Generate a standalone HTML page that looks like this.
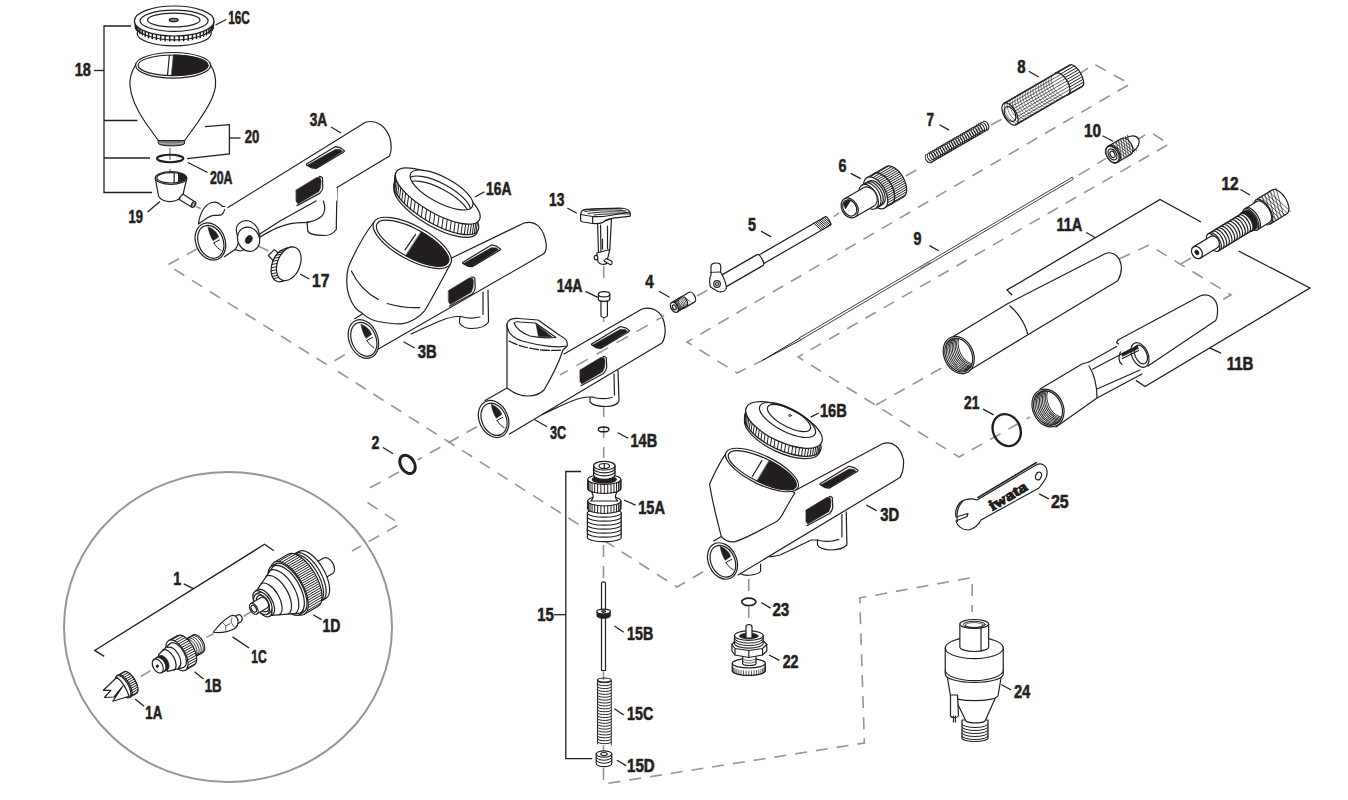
<!DOCTYPE html>
<html><head><meta charset="utf-8"><style>
html,body{margin:0;padding:0;background:#fff;}
svg{display:block;}
.lab text{font-family:"Liberation Sans",sans-serif;font-weight:bold;font-size:19px;fill:#231f20;stroke:#231f20;stroke-width:0.6;}
.ld line,.ld polyline{stroke:#231f20;stroke-width:1.3;fill:none;}
.ds line,.ds polyline,.ds path,.ds ellipse{stroke:#939598;stroke-width:1.6;fill:none;stroke-dasharray:12 9;}
.p path,.p ellipse,.p circle,.p line,.p polyline,.p rect,.p polygon{stroke:#231f20;stroke-width:1.2;fill:none;stroke-linejoin:round;stroke-linecap:round;}
.p .w{fill:#fff;}
.p .k{fill:#231f20;stroke:#231f20;stroke-width:0.55;}
.p .t{stroke-width:0.7;}
.p .t2{stroke-width:1;}
.p .t3{stroke-width:1.5;}
</style></head><body>
<svg width="1348" height="800" viewBox="0 0 1348 800">
<g class="ds">
<polyline points="197.5,248.8 167.5,265 327.5,365 352.5,350"/>
<polyline points="338,371.5 677,587 708,569"/>
<polyline points="477,426.7 417.5,460"/>
<line x1="399" y1="472" x2="366" y2="490"/>
<polyline points="367.5,502.5 400,524 352,551"/>
<line x1="253.9" y1="610" x2="242" y2="617.2"/>
<line x1="213.5" y1="633.8" x2="206.4" y2="637.4"/>
<line x1="150.5" y1="670.6" x2="141" y2="676.5"/>
<line x1="603.7" y1="266" x2="603.7" y2="286"/>
<line x1="603.7" y1="316" x2="603.7" y2="322"/>
<line x1="603.7" y1="405" x2="603.7" y2="458"/>
<line x1="603.5" y1="545" x2="603.5" y2="580"/>
<line x1="603.5" y1="668" x2="603.5" y2="680"/>
<line x1="603.5" y1="745" x2="603.5" y2="752"/>
<polyline points="603.5,768 603.5,784 864.4,743 859.7,598 972.2,577.5 972.2,612"/>
<line x1="748.75" y1="579" x2="748.75" y2="597"/>
<line x1="748.75" y1="606" x2="748.75" y2="625"/>
<line x1="650" y1="324" x2="664" y2="316" style="stroke-dasharray:none"/>
<line x1="697" y1="296" x2="709.4" y2="289"/>
<line x1="833.7" y1="216.7" x2="839" y2="212.8"/>
<line x1="905.9" y1="176" x2="924.3" y2="165.5"/>
<line x1="991" y1="125" x2="1002" y2="119"/>
<polyline points="1078,75 1094,64 1130,84 687,342 737,373 762.8,360.2"/>
<polyline points="1073.5,178.2 1106,158.4" style="stroke-dasharray:13 9;stroke-dashoffset:-6"/>
<polyline points="1135,141 1150,132 1169,144 798,357 959,457 1030,417"/>
<line x1="876" y1="405" x2="945" y2="366"/>
<polyline points="1119,259 1149,245 1231,295 1220,301"/>
<line x1="1191" y1="258" x2="1180" y2="264.5"/>
<line x1="196" y1="206.4" x2="201" y2="208.7" style="stroke-dasharray:none"/>
<line x1="257.9" y1="245.7" x2="268.4" y2="251"/>
<line x1="170" y1="148" x2="170" y2="180"/>
<ellipse cx="228" cy="627" rx="164" ry="155" style="stroke-dasharray:none;stroke:#939598;stroke-width:2"/>

</g>
<g class="ld">
<line x1="215.5" y1="25" x2="226.25" y2="19.5"/>
<line x1="331" y1="127" x2="341" y2="133"/>
<line x1="475" y1="197" x2="484.4" y2="191.7"/>
<line x1="300" y1="274" x2="309.4" y2="279"/>
<line x1="403.5" y1="341.7" x2="414.7" y2="348"/>
<line x1="567.3" y1="208" x2="576.8" y2="213.3"/>
<line x1="585.5" y1="291.3" x2="597.8" y2="297.3"/>
<line x1="659" y1="291.3" x2="669.5" y2="297.3"/>
<line x1="534.8" y1="419.8" x2="547" y2="426.8"/>
<line x1="617.7" y1="432.7" x2="628.2" y2="438.3"/>
<line x1="761" y1="231.1" x2="771.2" y2="236.9"/>
<line x1="850.8" y1="173.4" x2="860.7" y2="178.6"/>
<line x1="939.5" y1="124.8" x2="949.2" y2="130.1"/>
<line x1="929.5" y1="245.6" x2="938.7" y2="250.8"/>
<line x1="1028.75" y1="71.25" x2="1038.75" y2="77"/>
<line x1="1102.5" y1="135.75" x2="1113" y2="141.25"/>
<line x1="1240.5" y1="189.5" x2="1250" y2="195"/>
<line x1="1086.25" y1="232.5" x2="1095" y2="237.5"/>
<line x1="1209.5" y1="347.8" x2="1221.1" y2="353.2"/>
<line x1="983.1" y1="409.1" x2="993.6" y2="414.9"/>
<line x1="1039.1" y1="493.9" x2="1048.9" y2="498.9"/>
<line x1="810.6" y1="417.1" x2="818.8" y2="413"/>
<line x1="866.4" y1="505.1" x2="876.6" y2="510.6"/>
<line x1="624" y1="500" x2="635.5" y2="505.2"/>
<line x1="383" y1="447.5" x2="393" y2="453.75"/>
<line x1="183.8" y1="583.9" x2="193.3" y2="588.7"/>
<line x1="313.2" y1="614.8" x2="321.5" y2="619.6"/>
<line x1="232.5" y1="636.9" x2="249.1" y2="648"/>
<line x1="194.5" y1="671.8" x2="203.5" y2="678.9"/>
<line x1="135.1" y1="699.1" x2="144.1" y2="706.2"/>
<line x1="188" y1="162.5" x2="207.5" y2="172.5"/>
<line x1="147.6" y1="212" x2="159.9" y2="201.6"/>
<line x1="1001.25" y1="684.5" x2="1011.25" y2="690"/>
<line x1="614.4" y1="626" x2="623.75" y2="632.2"/>
<line x1="614.4" y1="708.75" x2="623.75" y2="715"/>
<line x1="616.9" y1="760.3" x2="626.25" y2="765.6"/>
<line x1="761.25" y1="602.5" x2="770.6" y2="608.1"/>
<line x1="769" y1="655" x2="779.4" y2="660.3"/>
<polyline points="131,26 104,26 104,192.5 152,192.5"/>
<polyline points="104,120.5 137.5,120.5"/>
<polyline points="104,158 150,158"/>
<polyline points="94,70.5 104,70.5"/>
<polyline points="205,126.6 229.4,124.7 229.4,153.9 187.1,158.7"/>
<polyline points="229.4,138 240.5,138"/>
<polyline points="104.2,656.4 94.7,650.4 264.5,544.3 274,550.7"/>
<polyline points="1012,295 1007,290 1160,199.5 1201,222"/>
<polyline points="1135.9,380.4 1145,386.6 1309.9,288 1238.5,251"/>
<polyline points="581,471.5 565.8,471.5 565.8,758.6 592.2,758.6"/>
<polyline points="554,614.7 565.8,614.7"/>
</g>
<g class="p">
<ellipse class="w" cx="174.2" cy="33.5" rx="37" ry="12.3"/>
<path class="w" d="M134.5,21 L135.5,27 A39.3,15 0 0 0 213.3,27 L214,21 Z"/>
<path class="t3" d="M213.32,23.54L213.32,28.54M212.39,25.24L212.39,30.24M210.92,26.89L210.92,31.89M208.93,28.47L208.93,33.47M206.46,29.95L206.46,34.95M203.52,31.3L203.52,36.3M200.18,32.52L200.18,37.52M196.47,33.58L196.47,38.58M192.44,34.47L192.44,39.47M188.16,35.18L188.16,40.18M183.68,35.69L183.68,40.69M179.07,36L179.07,41M174.4,36.1L174.4,41.1M169.73,36L169.73,41M165.12,35.69L165.12,40.69M160.64,35.18L160.64,40.18M156.36,34.47L156.36,39.47M152.33,33.58L152.33,38.58M148.62,32.52L148.62,37.52M145.28,31.3L145.28,36.3M142.34,29.95L142.34,34.95M139.87,28.47L139.87,33.47M137.88,26.89L137.88,31.89M136.41,25.24L136.41,30.24M135.48,23.54L135.48,28.54"/>
<ellipse class="w" cx="174.2" cy="21" rx="39.8" ry="15"/>
<ellipse cx="174.1" cy="20.8" rx="34" ry="10.6"/>
<ellipse cx="173.75" cy="20" rx="26.25" ry="6.9"/>
<ellipse cx="173.75" cy="20" rx="4.3" ry="1.6" style="stroke-width:1.4;fill:#888"/>
<path class="w" d="M135.6,65 C131,72 129.5,80 130,86 C131,98 137,110 145,122 L158.3,140.5 L184.7,140.5 L198,122 C206,110 214,98 215.5,86 C216,80 215,72 210.6,65 Z"/>
<path style="fill:#777;stroke-width:1" d="M158.3,140.5 L184.7,140.5 L184.3,144 A13,2.3 0 0 1 158.7,144 Z"/>
<path style="stroke:#ccc;stroke-width:0.8" d="M160,142.8 A12,1.8 0 0 0 183,142.8"/>
<ellipse class="w" cx="173.1" cy="65.3" rx="37.5" ry="12.8"/>
<ellipse cx="173.1" cy="65.3" rx="35" ry="10.3"/>
<path class="k" d="M173.8,55.05 A35,10.3 0 0 1 171.9,75.58 Z"/>
<path class="k" d="M173.8,55.05 A35,10.3 0 0 1 208.1,65.3 A35,10.3 0 0 1 171.9,75.58 Z"/>
<path d="M169.4,55.3 L167.5,75.5"/>
<ellipse cx="170.2" cy="158.5" rx="13.1" ry="3.75" style="stroke-width:2.2"/>
<path class="w" d="M155.3,178.5 L158.7,196.5 C161,200 165,201.6 169.7,201.6 C174,201.6 177,200.5 178.7,199.3 L183.2,193.7 L186.8,178.5 Z"/>
<path class="w" d="M179.2,199.6 L191.6,206.9 L195.2,202 L183.2,194.25 C181,195.5 179.5,197.5 179.2,199.6 Z"/>
<ellipse class="w" cx="193.5" cy="204.5" rx="1.9" ry="3.1" transform="rotate(30 193.5 204.5)"/>
<ellipse cx="193.6" cy="204.6" rx="1" ry="1.8" transform="rotate(30 193.6 204.6)" style="stroke-width:0.7"/>
<ellipse class="w" cx="171" cy="178" rx="15.75" ry="6.3"/>
<ellipse cx="171.2" cy="177.8" rx="14.4" ry="5.2"/>
<path class="k" style="stroke-width:0.5" d="M179.04,173.44L179.66,173.59L180.26,173.76L180.84,173.94L181.38,174.12L181.9,174.32L182.39,174.53L182.85,174.74L183.28,174.97L183.67,175.2L184.03,175.44L184.36,175.68L184.64,175.94L184.9,176.19L185.11,176.45L185.29,176.72L185.42,176.99L185.52,177.26L185.58,177.53L185.6,177.8L185.58,178.07L185.52,178.34L185.42,178.61L185.29,178.88L185.11,179.15L184.9,179.41L184.64,179.66L184.36,179.92L184.03,180.16L183.67,180.4L183.28,180.63L182.85,180.86L182.39,181.07L181.9,181.28L181.38,181.48L180.84,181.66L180.26,181.84L179.66,182.01L179.04,182.16Z"/>
<path d="M174.2,173.5 L174.2,182.5 M178.6,173 L178.6,182.6"/>
<path style="fill:#fff;stroke:none" d="M337,185 L336.25,229.5 C333,234 329,235.5 325,235.5 C316,235.5 309,234 307.75,231 L307,205 Z"/>
<path d="M337,187.5 L336.25,229.5 C333,234 329,235.5 325,235.5 C316,235.5 309,234 307.75,231 L307,222"/>
<path style="fill:#fff;stroke:none" d="M198.3,223.5 C200,214 203,207 208,204 C212,201 218,202 222,205.7 C224,207 225,208 225,208 L228,207.5 L365.5,122.25 C377,119 386,127 390,138 C392,147 391,153 389.5,156 L337,187.5 L337,200 C330,210 323,218 307,222 C297,222 289,222 280,223.5 L260,237.1 L256.5,228.2 L259.4,234.2 L235,249.6 L224.4,256.7 C220,259 215,260 211,259 Z"/>
<path d="M228,207.5 L365.5,122.25 C377,119 386,127 390,138 C392,147 391,153 389.5,156 L337,187.5"/>
<path d="M235,249.6 L224.4,256.7"/>
<path d="M198.5,224 C199,218 201,213 203.5,209 C206,205.5 209.5,202.5 213.5,202.25 C216.5,202 219.5,203.5 222.5,206.5 L224.5,206.5 M224.5,209.5 C224.3,211.5 223.5,213 222,214.5 C221,215.3 219.5,215.3 217,215.3 L213.5,215.3 C211.5,215.5 209.5,216.5 207,218 L198.5,224"/>
<path d="M323.5,201 C325,206 325.5,212 322,216 C317,220 312,222 307,222"/>
<path d="M280,221 L316,201 M259.4,234.2 L280,221"/>
<path d="M260,237.1 C270,231 282,224 296.8,222.9 C300,222.5 305,222.3 308.7,222.3"/>
<ellipse class="w" cx="210.4" cy="241.5" rx="14.6" ry="19.2" transform="rotate(-22 210.4 241.5)"/>
<ellipse class="w" cx="210.8" cy="241.8" rx="12.4" ry="17" transform="rotate(-22 210.8 241.8)"/>
<path class="k" style="stroke-width:0.5" d="M208.1,226.9 C213.9,229 217.2,232.5 218.6,237 L213.1,240.8 C210.4,236.5 208.6,231.5 208.1,226.9 Z"/>
<path class="t2" d="M214,243.1 C215.9,246.5 218.4,249 221,250.1 M213.8,242.9 L219.6,239.9"/>
<path class="w" d="M245.8,220.5 C240,221 236,225 236.3,230 C236.6,234 238,237 238.7,241.3 C238,245 236.5,248 235,249.6 L240,251 L256,246 L260,237 L258,229 C255,224 250,220.5 245.8,220.5 Z"/>
<ellipse class="w" cx="248.6" cy="239.2" rx="10.8" ry="12.4" transform="rotate(-25 248.6 239.2)"/>
<ellipse class="k" cx="248.8" cy="239.5" rx="3.1" ry="4.4" transform="rotate(30 248.8 239.5)"/>
<path class="w" d="M306.6,164.1L335.5,146.6L340.7,147.9L344.7,150.9L343.4,152.2L316.2,168.4L311.9,168L306.6,164.9Z"/>
<path class="k" style="stroke-width:0.5" d="M307.8,165L335.5,149.3L340.3,149.6L342.6,151.5L316.2,168.2L311.9,167.8L308.1,165.9Z"/>
<path class="k" style="stroke-width:0.5" d="M296.1,189.9L317.1,177.2L320.2,177.6L321.1,181.1L320.6,187.2L318.9,191.6L297.9,203.9L296.1,201.2Z"/>
<path d="M297,205.6 L319.7,193.4 C321.6,191.4 322.8,188.9 322.8,187.2 L322.4,177.6 C321.6,176.6 320.6,176.3 319.3,176.3"/>
<path class="w" d="M268.3,255.5 L274.3,249.6 L279,253.5 L273.1,260.3 Z"/>
<ellipse class="w" cx="283.5" cy="265" rx="11.3" ry="17.6" transform="rotate(22 283.5 265)"/>
<path style="fill:#fff;stroke:none" d="M281.5,248 L286.5,246.8 L294.5,281.5 L288.5,283 Z"/>
<path class="t2" d="M273.51,278.61L278.81,277.41M272.29,276.45L277.59,275.25M271.49,273.86L276.79,272.66M271.14,270.94L276.44,269.74M271.24,267.8L276.54,266.6M271.81,264.55L277.11,263.35M272.81,261.32L278.11,260.12M274.2,258.23L279.5,257.03M275.95,255.39L281.25,254.19M277.97,252.91L283.27,251.71M280.2,250.88L285.5,249.68M282.56,249.37L287.86,248.17M284.95,248.45L290.25,247.25M287.28,248.14L292.58,246.94"/>
<ellipse class="w" cx="288.8" cy="263.8" rx="11.3" ry="17.6" transform="rotate(22 288.8 263.8)"/>
<path style="fill:#fff;stroke:none" d="M488,285 L488.5,322 C486,326 480,328.5 472,328.5 C467,328.5 462,327 459.5,323 C459.3,321 459.5,319 460,316.5 L460,300 Z"/>
<path d="M488,290 L488.5,322 C486,326 480,328.5 472,328.5 C467,328.5 462,327 459.5,323 C459.3,321 459.5,319 460,316.5"/>
<path d="M483,292 L483,314.5 M461,316.5 C467,318.5 474,318.5 480,317"/>
<path style="fill:#fff;stroke:none" d="M354.7,318.8 L447.9,259.8 L524,223 C535,220 544,227 546.3,245 C546.5,250 545,253 542.4,254.5 L377,349 C370,359 360,360 352,350 C346,340 346,328 354.7,318.8 Z"/>
<path d="M447.9,259.8 L524,223 C535,220 544,227 546.3,245 C546.5,250 545,253 542.4,254.5 L377.5,349.5"/>
<path d="M411,334 C420,330 430,325 440,321 C446,318.5 452,316.5 458,316.5 L461,316.5"/>
<path d="M354.7,318.8 L368,310.5"/>
<ellipse class="w" cx="363.4" cy="339" rx="14.3" ry="20" transform="rotate(-22 363.4 339)"/>
<ellipse class="w" cx="363.8" cy="339.3" rx="12.2" ry="17.6" transform="rotate(-22 363.8 339.3)"/>
<path class="k" style="stroke-width:0.5" d="M361.1,324.4 C366.9,326.5 370.2,330 371.6,334.5 L366.1,338.3 C363.4,334 361.6,329 361.1,324.4 Z"/>
<path class="t2" d="M367,340.6 C368.9,344 371.4,346.5 374,347.6 M366.8,340.4 L372.6,337.4"/>
<path class="w" d="M374,222 C366,232 356,250 349.8,263.7 C346,272 345.5,287 349.8,297.8 C353,306 358,311 361.1,312.4 C366,317 371,320 378,321.5 C386,323 395,324 401.8,323.8 C412,322 420,316 424.6,310.8 C430,302 436,291 448,268.5 L450.6,263.7 Z"/>
<path d="M351.4,271 C358,285 368,294 378.2,299.4 M387.2,303.5 C397,306.5 410,308 419.7,307.6"/>
<ellipse class="w" cx="412.3" cy="242.9" rx="43.6" ry="16.9" transform="rotate(28.6 412.3 242.9)"/>
<ellipse cx="412.6" cy="243.2" rx="40.5" ry="14.2" transform="rotate(28.6 412.6 243.2)"/>
<path class="k" style="stroke-width:0.5" d="M421.25,231.76L423.08,232.83L424.88,233.92L426.64,235.04L428.37,236.18L430.05,237.33L431.69,238.51L433.27,239.7L434.8,240.89L436.27,242.1L437.67,243.3L439,244.51L440.26,245.71L441.44,246.91L442.55,248.09L443.57,249.27L444.51,250.42L445.36,251.56L446.12,252.67L446.79,253.76L447.37,254.81L447.85,255.84L448.23,256.83L448.52,257.79L448.71,258.7L448.79,259.57L448.78,260.4L448.67,261.18L448.47,261.91L448.16,262.59L447.75,263.21L447.25,263.78L446.66,264.3L445.97,264.76L445.19,265.15L444.32,265.49L443.36,265.77L442.32,265.98L441.2,266.13L440,266.22L438.72,266.25L437.37,266.21L435.96,266.11L434.48,265.95L432.94,265.72L431.34,265.44L429.69,265.09L428,264.68L426.27,264.21L424.49,263.69L422.69,263.11L420.85,262.47L419,261.79L417.12,261.05L415.24,260.26L413.34,259.43L411.45,258.55L409.56,257.63L407.67,256.66L405.8,255.67Z"/>
<path d="M415.6,234.4 L405,249.8"/>
<path class="w" d="M462.6,262.4L491.5,244.9L496.7,246.2L500.7,249.2L499.4,250.5L472.2,266.7L467.9,266.3L462.6,263.2Z"/>
<path class="k" style="stroke-width:0.5" d="M463.8,263.3L491.5,247.6L496.3,247.9L498.6,249.8L472.2,266.5L467.9,266.1L464.1,264.2Z"/>
<path class="k" style="stroke-width:0.5" d="M448.5,290.5L469.5,277.8L472.6,278.2L473.5,281.7L473,287.8L471.3,292.2L450.3,304.5L448.5,301.8Z"/>
<path d="M449.4,306.2 L472.1,294 C474,292 475.2,289.5 475.2,287.8 L474.8,278.2 C474,277.2 473,276.9 471.7,276.9"/>
<ellipse class="w" cx="435.8" cy="209.5" rx="47.3" ry="17" transform="rotate(30 435.8 209.5)"/>
<ellipse class="w" cx="436.3" cy="206.5" rx="48" ry="17" transform="rotate(30 436.3 206.5)"/>
<path class="t2" d="M477.43,222.01L476.03,232.51M475.77,222.94L474.37,233.44M473.75,223.62L472.35,234.12M471.37,224.02L469.97,234.52M468.67,224.16L467.27,234.66M465.67,224.02L464.27,234.52M462.4,223.61L461,234.11M458.89,222.93L457.49,233.43M455.18,221.99L453.78,232.49M451.29,220.81L449.89,231.31M447.28,219.38L445.88,229.88M443.17,217.72L441.77,228.22M439.01,215.86L437.61,226.36M434.83,213.8L433.43,224.3M430.69,211.57L429.29,222.07M426.61,209.19L425.21,219.69M422.64,206.68L421.24,217.18M418.81,204.07L417.41,214.57M415.17,201.38L413.77,211.88M411.74,198.63L410.34,209.13M408.57,195.87L407.17,206.37M405.68,193.1L404.28,203.6M403.1,190.36L401.7,200.86M400.85,187.68L399.45,198.18M398.96,185.07L397.56,195.57M397.45,182.58L396.05,193.08M396.33,180.21L394.93,190.71M395.6,177.99L394.2,188.49M395.29,175.95L393.89,186.45M395.38,174.11L393.98,184.61M395.88,172.47L394.48,182.97"/>
<ellipse class="w" cx="437.7" cy="196" rx="48" ry="17" transform="rotate(30 437.7 196)"/>
<ellipse class="w" cx="441.5" cy="190" rx="35" ry="12.8" transform="rotate(28 441.5 190)"/>
<clipPath id="clh16a"><ellipse cx="441.5" cy="190" rx="35" ry="12.8" transform="rotate(28 441.5 190)"/></clipPath>
<g clip-path="url(#clh16a)">
<ellipse cx="439" cy="196" rx="35" ry="12.8" transform="rotate(28 439 196)"/>
<ellipse cx="437.5" cy="201" rx="35" ry="12.8" transform="rotate(28 437.5 201)"/>
</g>
<path class="w" d="M597.6,223.5 L598.5,253.5 L609.8,249.5 L611.5,218.6 Z"/>
<path d="M600.5,225 L601,253 M602.5,239 L602.5,249 M607.5,226 L607.5,248.5"/>
<path class="w" d="M596.8,253 L598,262 C600,264.5 604,265 606.5,263.5 L609.8,249.5 Z"/>
<ellipse class="w" cx="596" cy="257.6" rx="1.8" ry="2.2"/>
<path class="w" d="M604,261 L610,264.5 A1.6,2 0 0 0 611.5,261 L606,258.5 Z"/>
<path class="w" d="M580.6,214.5 C581,211 583,209.6 586,209.4 L618.8,208 C624,208 628,209 629.3,211.3 C630.5,213 630.5,215 630.2,216.1 C624,217 615,217.5 610.6,218.6 C606,219.5 604,221 602.5,222.6 C600,223.5 596,223.7 592.8,223.5 L583,222 C581,221.5 580.6,220.5 580.6,220.2 Z"/>
<path d="M580.6,214.5 L592.5,216.5 C598,217 604,216.5 610,215.5 L630,212 M592.5,216.5 L592.8,223.5"/>
<path style="stroke-width:1" d="M585,211.5 C595,210 610,209 626,211 M588,213.5 C598,212 612,211 628.5,212.6 M584,210 C594,208.5 608,207.8 622,209 M594,215 C603,214 615,213.5 629.5,214"/>
<path class="w" d="M600.9,300.7 L601,316 C602,318 606,318 607.4,316 L607.4,300.7 Z"/>
<path class="w" d="M598.4,294.2 L598.4,299.5 C599,302 609,302 609.8,299.5 L609.8,294.2 Z"/>
<ellipse class="w" cx="604.1" cy="294.2" rx="5.7" ry="2.6"/>
<ellipse cx="603.6" cy="429.4" rx="5.3" ry="2.4" style="stroke-width:1.4"/>
<path style="fill:#fff;stroke:none" d="M618,365 L619,401 C618,404 613,406.5 606,406.5 C600,406.5 593,405.5 590,402 L590,385 Z"/>
<path d="M618,370 L619,401 C618,404 613,406.5 606,406.5 C600,406.5 593,405.5 590,402 L590,397.5"/>
<path style="fill:#fff;stroke:none" d="M485,400.5 L507,388 L507,324 L567,346 C563,358 557,370 552,376 L564,354 L642,309 C652,306 661,311 664,322 C666,330 665,338 662,343 L509,434 C503,438 495,438 487,432 C478,424 476,408 485,400.5 Z"/>
<path d="M485,400.5 L507,388 M564,354 L642,309 C652,306 661,311 664,322 C666,330 665,338 662,343 L509.5,434"/>
<path d="M542,414.5 C552,410 562,405 572,401 C578,398.5 584,397 590,397 L592,397"/>
<path d="M614,374 L614.5,395 M592,397 C598,399 606,399 612,397.5"/>
<ellipse class="w" cx="493.6" cy="419" rx="14.4" ry="19.2" transform="rotate(-24 493.6 419)"/>
<ellipse class="w" cx="494" cy="419.3" rx="12.2" ry="16.8" transform="rotate(-24 494 419.3)"/>
<path class="k" style="stroke-width:0.5" d="M491.3,404.4 C497.1,406.5 500.4,410 501.8,414.5 L496.3,418.3 C493.6,414 491.8,409 491.3,404.4 Z"/>
<path class="t2" d="M497.2,420.6 C499.1,424 501.6,426.5 504.2,427.6 M497,420.4 L502.8,417.4"/>
<path class="w" d="M507,324 L507,388 C512,392 520,396 528,396 C535,396 540,394 544,390 C550,380 558,365 563,350 L567,346 Z"/>
<path d="M509,341 C520,347 540,352 561,350" style="stroke-dasharray:9 2"/>
<path class="w" d="M507,324 C508,319 512,318 519,318.5 L538,320 L560,335.5 C566,338.5 568,341 567,346 C558,348 540,346 522,341 C513,338 507,332 507,324 Z"/>
<path d="M514,323 C515,321.5 517,321.5 520,322 L535.5,323 L556,337.5 C550,338 540,338 530,336 C522,333 516,328 514,323 Z"/>
<path class="k" d="M536,324 L538.5,336.5 L552,337 Z" style="stroke-width:0.6"/>
<path d="M560,375 L664,316" style="stroke:#939598;stroke-width:1.5;stroke-dasharray:13 10;stroke-dashoffset:4;stroke-linecap:butt"/>
<path class="w" d="M591.5,344L620.4,326.5L625.6,327.8L629.6,330.8L628.3,332.1L601.1,348.3L596.8,347.9L591.5,344.8Z"/>
<path class="k" style="stroke-width:0.5" d="M592.7,344.9L620.4,329.2L625.2,329.5L627.5,331.4L601.1,348.1L596.8,347.7L593,345.8Z"/>
<path class="k" style="stroke-width:0.5" d="M580,370L601,357.3L604.1,357.7L605,361.2L604.5,367.3L602.8,371.7L581.8,384L580,381.3Z"/>
<path d="M580.9,385.7 L603.6,373.5 C605.5,371.5 606.7,369 606.7,367.3 L606.3,357.7 C605.5,356.7 604.5,356.4 603.2,356.4"/>
<path class="w" d="M679.28,297.94L688.79,292.42A3.36,5.6 -30.1 0 1 694.41,302.11L684.89,307.63Z" />
<ellipse class="w" cx="682.09" cy="302.79" rx="3.36" ry="5.6" transform="rotate(-30.1 682.09 302.79)" style="" />
<path class="t" d="M684,296.5 L690.5,302 M680.5,299 L687,304.5"/>
<path class="w" d="M671.59,302.63L681.11,297.11A3.24,5.4 -30.1 0 1 686.52,306.46L677.01,311.97Z" />
<ellipse class="w" cx="674.3" cy="307.3" rx="3.24" ry="5.4" transform="rotate(-30.1 674.3 307.3)" style="" />
<path style="stroke-width:0.8" d="M672.07,302.46A3.18,5.3 -30.1 0 0 678.08,311.24M678.08,311.24A3.18,5.3 -30.1 0 0 673.44,301.67M673.44,301.67A3.18,5.3 -30.1 0 0 679.45,310.44M679.45,310.44A3.18,5.3 -30.1 0 0 674.81,300.88M674.81,300.88A3.18,5.3 -30.1 0 0 680.82,309.65M680.82,309.65A3.18,5.3 -30.1 0 0 676.18,300.08M676.18,300.08A3.18,5.3 -30.1 0 0 682.18,308.86M682.18,308.86A3.18,5.3 -30.1 0 0 677.55,299.29M677.55,299.29A3.18,5.3 -30.1 0 0 683.55,308.06M683.55,308.06A3.18,5.3 -30.1 0 0 678.92,298.49M678.92,298.49A3.18,5.3 -30.1 0 0 684.92,307.27M684.92,307.27A3.18,5.3 -30.1 0 0 680.29,297.7"/>
<ellipse class="w" cx="674.3" cy="307.3" rx="3.2" ry="5.4" transform="rotate(-30 674.3 307.3)"/>
<ellipse cx="674.3" cy="307.3" rx="1.6" ry="2.6" transform="rotate(-30 674.3 307.3)"/>
<path class="w" d="M757.66,255.76L825.21,216.76A1.72,4.9 -30 0 1 830.11,225.24L762.56,264.24Z" />
<path class="t2" d="M813.95,223.26L821.44,230.24M815.42,222.41L822.92,229.39M816.89,221.56L824.39,228.54M818.36,220.71L825.86,227.69M819.84,219.86L827.33,226.84M821.31,219.01L828.81,225.99M822.78,218.16L830.28,225.14M824.25,217.31L831.75,224.29"/>
<path class="w" d="M718.9,276.63L757.01,254.63A2.17,6.2 -30 0 1 763.21,265.37L725.1,287.37Z" />
<path class="w" d="M711,265.5 C712,263 716,262.5 719.5,263.5 C721,265 721,268 720.5,272 C723,276 726,283 726.5,288 C726,291 722,292.5 718,291.5 L710.5,287 C709,283 709.5,277 711,275 Z"/>
<path d="M710.5,272.5 C713,272 716,272 720.5,272"/>
<circle cx="717" cy="284" r="3.3"/><circle cx="717" cy="284" r="1.5"/>
<path class="w" d="M873.8,173.7L885.91,166.68A9.62,17.5 -30.1 0 1 903.46,196.96L891.35,203.98Z" />
<ellipse class="w" cx="882.58" cy="188.84" rx="9.62" ry="17.5" transform="rotate(-30.1 882.58 188.84)" style="" />
<path class="t2" d="M877.27,172.7L888.52,166.18M880.34,173.32L891.59,166.8M882.6,174.42L893.84,167.9M884.5,175.72L895.74,169.2M886.17,177.15L897.41,170.63M887.66,178.69L898.91,172.17M889.01,180.31L900.26,173.79M890.23,182L901.48,175.48M891.34,183.76L902.58,177.25M892.32,185.6L903.57,179.08M893.18,187.5L904.43,180.98M893.92,189.48L905.16,182.96M894.5,191.54L905.75,185.02M894.92,193.7L906.17,187.18M895.1,195.99L906.35,189.47M894.93,198.49L906.18,191.97M893.95,201.47L905.19,194.95"/>
<path class="w" d="M866.88,177.71L873.8,173.7A9.62,17.5 -30.1 0 1 891.35,203.98L884.43,207.99Z" />
<ellipse class="w" cx="875.65" cy="192.85" rx="9.62" ry="17.5" transform="rotate(-30.1 875.65 192.85)" style="" />
<path class="t2" d="M870.35,176.71L876.41,173.2M873.42,177.34L879.48,173.82M875.68,178.43L881.73,174.92M877.58,179.73L883.63,176.22M879.25,181.16L885.3,177.65M880.74,182.7L886.8,179.19M882.09,184.32L888.15,180.81M883.31,186.01L889.37,182.5M884.41,187.78L890.47,184.27M885.4,189.61L891.45,186.1M886.26,191.51L892.32,188M886.99,193.49L893.05,189.98M887.58,195.55L893.64,192.04M888,197.71L894.05,194.2M888.18,200L894.24,196.49M888.01,202.51L894.07,199M887.02,205.48L893.08,201.97"/>
<path class="w" d="M861.96,185.19L868.88,181.18A8.1,13.5 -30.1 0 1 882.42,204.53L875.5,208.55Z" />
<ellipse class="w" cx="868.73" cy="196.87" rx="8.1" ry="13.5" transform="rotate(-30.1 868.73 196.87)" style="" />
<path class="" d="M864.56,183.68A8.1,13.5 -30.1 0 1 878.1,207.04M866.72,182.43A8.1,13.5 -30.1 0 1 880.26,205.79"/>
<path class="w" d="M844.43,198.82L863.47,187.78A7.88,10.5 -30.1 0 1 874,205.95L854.97,216.98Z" />
<ellipse class="w" cx="849.7" cy="207.9" rx="7.88" ry="10.5" transform="rotate(-30.1 849.7 207.9)" style="" />
<ellipse cx="849.7" cy="207.9" rx="6.5" ry="8.6" transform="rotate(-30 849.7 207.9)"/>
<path class="k" d="M843.5,203 C846,200 849,199.5 851,200 L845.5,209 C844.5,207 843.5,205 843.5,203 Z" style="stroke-width:0.5"/>
<path style="stroke-width:1.05" d="M926.09,154.35A3.36,4.8 -30.1 0 0 932.01,162.02M932.01,162.02A3.36,4.8 -30.1 0 0 928.29,153.07M928.29,153.07A3.36,4.8 -30.1 0 0 934.2,160.74M934.2,160.74A3.36,4.8 -30.1 0 0 930.49,151.8M930.49,151.8A3.36,4.8 -30.1 0 0 936.4,159.47M936.4,159.47A3.36,4.8 -30.1 0 0 932.68,150.53M932.68,150.53A3.36,4.8 -30.1 0 0 938.59,158.2M938.59,158.2A3.36,4.8 -30.1 0 0 934.88,149.26M934.88,149.26A3.36,4.8 -30.1 0 0 940.79,156.92M940.79,156.92A3.36,4.8 -30.1 0 0 937.07,147.98M937.07,147.98A3.36,4.8 -30.1 0 0 942.99,155.65M942.99,155.65A3.36,4.8 -30.1 0 0 939.27,146.71M939.27,146.71A3.36,4.8 -30.1 0 0 945.18,154.38M945.18,154.38A3.36,4.8 -30.1 0 0 941.47,145.44M941.47,145.44A3.36,4.8 -30.1 0 0 947.38,153.1M947.38,153.1A3.36,4.8 -30.1 0 0 943.66,144.16M943.66,144.16A3.36,4.8 -30.1 0 0 949.57,151.83M949.57,151.83A3.36,4.8 -30.1 0 0 945.86,142.89M945.86,142.89A3.36,4.8 -30.1 0 0 951.77,150.56M951.77,150.56A3.36,4.8 -30.1 0 0 948.05,141.62M948.05,141.62A3.36,4.8 -30.1 0 0 953.97,149.29M953.97,149.29A3.36,4.8 -30.1 0 0 950.25,140.34M950.25,140.34A3.36,4.8 -30.1 0 0 956.16,148.01M956.16,148.01A3.36,4.8 -30.1 0 0 952.45,139.07M952.45,139.07A3.36,4.8 -30.1 0 0 958.36,146.74M958.36,146.74A3.36,4.8 -30.1 0 0 954.64,137.8M954.64,137.8A3.36,4.8 -30.1 0 0 960.56,145.47M960.56,145.47A3.36,4.8 -30.1 0 0 956.84,136.52M956.84,136.52A3.36,4.8 -30.1 0 0 962.75,144.19M962.75,144.19A3.36,4.8 -30.1 0 0 959.04,135.25M959.04,135.25A3.36,4.8 -30.1 0 0 964.95,142.92M964.95,142.92A3.36,4.8 -30.1 0 0 961.23,133.98M961.23,133.98A3.36,4.8 -30.1 0 0 967.14,141.65M967.14,141.65A3.36,4.8 -30.1 0 0 963.43,132.71M963.43,132.71A3.36,4.8 -30.1 0 0 969.34,140.37M969.34,140.37A3.36,4.8 -30.1 0 0 965.62,131.43M965.62,131.43A3.36,4.8 -30.1 0 0 971.54,139.1M971.54,139.1A3.36,4.8 -30.1 0 0 967.82,130.16M967.82,130.16A3.36,4.8 -30.1 0 0 973.73,137.83M973.73,137.83A3.36,4.8 -30.1 0 0 970.02,128.89M970.02,128.89A3.36,4.8 -30.1 0 0 975.93,136.55M975.93,136.55A3.36,4.8 -30.1 0 0 972.21,127.61M972.21,127.61A3.36,4.8 -30.1 0 0 978.12,135.28M978.12,135.28A3.36,4.8 -30.1 0 0 974.41,126.34M974.41,126.34A3.36,4.8 -30.1 0 0 980.32,134.01M980.32,134.01A3.36,4.8 -30.1 0 0 976.6,125.07M976.6,125.07A3.36,4.8 -30.1 0 0 982.52,132.74M982.52,132.74A3.36,4.8 -30.1 0 0 978.8,123.79M978.8,123.79A3.36,4.8 -30.1 0 0 984.71,131.46M984.71,131.46A3.36,4.8 -30.1 0 0 981,122.52M981,122.52A3.36,4.8 -30.1 0 0 986.91,130.19M986.91,130.19A3.36,4.8 -30.1 0 0 983.19,121.25"/>
<path class="w" d="M1055.64,73.09L1069.48,65.07A5.62,12.5 -30.1 0 1 1082.02,86.7L1068.18,94.72Z" />
<ellipse class="w" cx="1061.91" cy="83.91" rx="5.62" ry="12.5" transform="rotate(-30.1 1061.91 83.91)" style="" />
<path class="t2" d="M1057.91,72.5L1070.88,64.98M1060.99,73.77L1073.97,66.24M1063.17,75.55L1076.14,68.03M1064.97,77.56L1077.95,70.04M1066.52,79.71L1079.5,72.19M1067.84,81.99L1080.82,74.47M1068.94,84.41L1081.92,76.88M1069.78,86.97L1082.76,79.45M1070.25,89.75L1083.23,82.23M1069.82,93.05L1082.79,85.53"/>
<path class="w" d="M1003.83,103.36L1055.74,73.27A6.15,12.3 -30.1 0 1 1068.08,94.55L1016.17,124.64Z" />
<ellipse class="w" cx="1010" cy="114" rx="6.15" ry="12.3" transform="rotate(-30.1 1010 114)" style="" />
<path class="t" d="M1006.23,102.68L1057.28,73.09M1009.77,104L1060.81,74.41M1012.18,105.98L1063.23,76.39M1014.14,108.23L1065.18,78.64M1015.75,110.66L1066.8,81.08M1017.07,113.28L1068.11,83.69M1018.04,116.09L1069.09,86.5M1018.56,119.17L1069.6,89.58M1017.95,122.9L1069,93.31"/>
<path class="t" d="M1006.43,101.85A6.15,12.3 -30.1 0 0 1018.76,123.14M1009.02,100.35A6.15,12.3 -30.1 0 0 1021.36,121.63M1011.62,98.85A6.15,12.3 -30.1 0 0 1023.95,120.13M1014.21,97.34A6.15,12.3 -30.1 0 0 1026.55,118.62M1016.81,95.84A6.15,12.3 -30.1 0 0 1029.15,117.12M1019.4,94.33A6.15,12.3 -30.1 0 0 1031.74,115.61M1022,92.83A6.15,12.3 -30.1 0 0 1034.34,114.11M1024.6,91.32A6.15,12.3 -30.1 0 0 1036.93,112.61M1027.19,89.82A6.15,12.3 -30.1 0 0 1039.53,111.1M1029.79,88.31A6.15,12.3 -30.1 0 0 1042.12,109.6M1032.38,86.81A6.15,12.3 -30.1 0 0 1044.72,108.09M1034.98,85.3A6.15,12.3 -30.1 0 0 1047.31,106.59M1037.57,83.8A6.15,12.3 -30.1 0 0 1049.91,105.08M1040.17,82.3A6.15,12.3 -30.1 0 0 1052.5,103.58M1042.76,80.79A6.15,12.3 -30.1 0 0 1055.1,102.07M1045.36,79.29A6.15,12.3 -30.1 0 0 1057.7,100.57M1047.95,77.78A6.15,12.3 -30.1 0 0 1060.29,99.06M1050.55,76.28A6.15,12.3 -30.1 0 0 1062.89,97.56M1053.15,74.77A6.15,12.3 -30.1 0 0 1065.48,96.06" style="stroke-dasharray:1 1.3"/>
<ellipse cx="1010" cy="114" rx="5" ry="8" transform="rotate(-30 1010 114)"/>
<path d="M762.8,360.2 L800,338 M762.8,360.2 L801,339.8" style="stroke-width:1"/>
<path d="M799.5,337.8 L1071.8,177.5 M800.5,339.9 L1072.8,179.5" style="stroke-width:0.85"/>
<path d="M1071.8,177.5 C1073.5,177 1074,179 1072.8,179.5" style="stroke-width:0.85"/>
<path d="M920,268.5 L930,262.6" style="stroke-width:0.6"/>
<g transform="translate(2.2,-1.6)">
<path class="w" d="M1122,141 C1128,136 1134,137 1136.5,140.5 C1138,144 1136,150 1131,153 L1124,157 Z"/>
<path class="w" d="M1106.39,147.64L1119.36,140.12A5.7,9.2 -30.1 0 1 1128.59,156.04L1115.61,163.56Z" />
<ellipse class="w" cx="1111" cy="155.6" rx="5.7" ry="9.2" transform="rotate(-30.1 1111 155.6)" style="" />
<path class="t" d="M1108.12,146.64L1123.4,159.05M1117.34,162.56L1114.17,143.13M1110.37,145.33L1125.65,157.74M1119.59,161.25L1116.42,141.82M1112.62,144.03L1127.9,156.44M1121.84,159.95L1118.67,140.52M1114.86,142.73L1130.15,155.13M1124.09,158.64L1120.92,139.22M1117.11,141.42L1132.4,153.83M1126.34,157.34L1123.17,137.91M1119.36,140.12L1134.65,152.53M1128.59,156.04L1125.42,136.61"/>
<path class="w" d="M1105.47,148.06L1106.77,147.3A5.77,9.3 -30.1 0 1 1116.1,163.4L1114.8,164.15Z" />
<ellipse class="w" cx="1110.13" cy="156.1" rx="5.77" ry="9.3" transform="rotate(-30.1 1110.13 156.1)" style="" />
<ellipse class="w" cx="1110.3" cy="156" rx="5.7" ry="9" transform="rotate(-30 1110.3 156)"/>
<ellipse cx="1110.3" cy="156" rx="3.9" ry="6" transform="rotate(-30 1110.3 156)"/>
<ellipse cx="1110.3" cy="156" rx="2.2" ry="3.4" transform="rotate(-30 1110.3 156)"/>
</g>
<path class="w" d="M953.75,336.25 L1007.5,303.75 L1105,253.75 C1114,250 1121,258 1121.4,268 C1121.5,274 1120,277 1117.8,280.7 L1027.5,335 L963.75,373.75 Z"/>
<path d="M1010,306 C1016,311 1025,322 1027.5,333.5"/>
<ellipse class="w" cx="958.75" cy="355" rx="14.6" ry="19.3" transform="rotate(-25 958.75 355)"/>
<ellipse cx="958.75" cy="355" rx="13" ry="17.7" transform="rotate(-25 958.75 355)"/>
<clipPath id="cl1"><ellipse cx="958.75" cy="355" rx="13" ry="17.7" transform="rotate(-25 958.75 355)"/></clipPath>
<g clip-path="url(#cl1)">
<ellipse cx="960.23" cy="354.15" rx="13" ry="17.7" transform="rotate(-25 960.23 354.15)" style="stroke-width:0.9"/>
<ellipse cx="961.71" cy="353.3" rx="13" ry="17.7" transform="rotate(-25 961.71 353.3)" style="stroke-width:0.9"/>
<ellipse cx="963.19" cy="352.45" rx="13" ry="17.7" transform="rotate(-25 963.19 352.45)" style="stroke-width:0.9"/>
<ellipse cx="964.67" cy="351.6" rx="13" ry="17.7" transform="rotate(-25 964.67 351.6)" style="stroke-width:0.9"/>
<ellipse cx="966.14" cy="350.75" rx="13" ry="17.7" transform="rotate(-25 966.14 350.75)" style="stroke-width:0.9"/>
<ellipse cx="967.62" cy="349.9" rx="13" ry="17.7" transform="rotate(-25 967.62 349.9)" style="stroke-width:0.9"/>
<ellipse cx="969.1" cy="349.05" rx="13" ry="17.7" transform="rotate(-25 969.1 349.05)" style="stroke-width:0.9"/>
<ellipse cx="970.58" cy="348.2" rx="13" ry="17.7" transform="rotate(-25 970.58 348.2)" style="stroke-width:0.9"/>
<ellipse cx="972.06" cy="347.35" rx="13" ry="17.7" transform="rotate(-25 972.06 347.35)" style="stroke-width:0.9"/>
</g>
<path style="fill:#fff;stroke:none" d="M1118,340 L1200,296 C1210,292 1217,300 1217.5,308 C1217.8,314 1217,318 1215.7,320.6 L1148,366 L1097,398 L1090,366 Z"/>
<path d="M1118,340 L1200,296 C1210,292 1217,300 1217.5,308 C1217.8,314 1217,318 1215.7,320.6 L1148,366"/>
<path d="M1118,340 L1116.5,342.5 L1118.5,344"/>
<path d="M1089,362 L1116.5,346.5 M1091,370 L1133,348 M1097,389 L1140,370 M1097,398 L1142,374"/>
<ellipse class="w" cx="1140" cy="355" rx="8" ry="13" transform="rotate(-25 1140 355)"/>
<ellipse cx="1140.8" cy="354.5" rx="5.8" ry="10" transform="rotate(-25 1140.8 354.5)"/>
<path class="k" d="M1121.5,353.5 L1137.5,345.5 L1138.5,348.5 L1122.5,356.5 Z" style="stroke-width:0.4"/>
<path d="M1122.5,358.5 L1138.5,350.5 M1120.5,352 C1118,356 1118.5,362 1122,364.5"/>
<path style="fill:#fff;stroke:none" d="M1040,389 L1082,364 L1089,362 C1094,372 1097,385 1097,398 L1056,427 Z"/>
<path d="M1040,389 L1082,364 L1089,362 M1089,366 C1094,374 1097,385 1097,398 L1056,427"/>
<ellipse class="w" cx="1048" cy="408" rx="15.2" ry="19.6" transform="rotate(-25 1048 408)"/>
<ellipse cx="1048" cy="408" rx="13.6" ry="18" transform="rotate(-25 1048 408)"/>
<clipPath id="cl2"><ellipse cx="1048" cy="408" rx="13.6" ry="18" transform="rotate(-25 1048 408)"/></clipPath>
<g clip-path="url(#cl2)">
<ellipse cx="1049.48" cy="407.15" rx="13.6" ry="18" transform="rotate(-25 1049.48 407.15)" style="stroke-width:0.9"/>
<ellipse cx="1050.96" cy="406.3" rx="13.6" ry="18" transform="rotate(-25 1050.96 406.3)" style="stroke-width:0.9"/>
<ellipse cx="1052.44" cy="405.45" rx="13.6" ry="18" transform="rotate(-25 1052.44 405.45)" style="stroke-width:0.9"/>
<ellipse cx="1053.92" cy="404.6" rx="13.6" ry="18" transform="rotate(-25 1053.92 404.6)" style="stroke-width:0.9"/>
<ellipse cx="1055.39" cy="403.75" rx="13.6" ry="18" transform="rotate(-25 1055.39 403.75)" style="stroke-width:0.9"/>
<ellipse cx="1056.87" cy="402.9" rx="13.6" ry="18" transform="rotate(-25 1056.87 402.9)" style="stroke-width:0.9"/>
<ellipse cx="1058.35" cy="402.05" rx="13.6" ry="18" transform="rotate(-25 1058.35 402.05)" style="stroke-width:0.9"/>
<ellipse cx="1059.83" cy="401.2" rx="13.6" ry="18" transform="rotate(-25 1059.83 401.2)" style="stroke-width:0.9"/>
<ellipse cx="1061.31" cy="400.35" rx="13.6" ry="18" transform="rotate(-25 1061.31 400.35)" style="stroke-width:0.9"/>
</g>
<path class="w" d="M1256.09,199.81L1272.29,189.88A7,14 -31.5 0 1 1286.92,213.75L1270.72,223.68Z" />
<ellipse class="w" cx="1263.41" cy="211.75" rx="7" ry="14" transform="rotate(-31.5 1263.41 211.75)" style="" />
<path class="t" d="M1252.68,201.9L1274.13,221.59M1267.31,225.77L1259.5,197.72M1255.41,200.23L1276.86,219.92M1270.04,224.1L1262.23,196.05M1258.14,198.55L1279.59,218.25M1272.77,222.43L1264.96,194.37M1260.87,196.88L1282.32,216.58M1275.5,220.76L1267.69,192.7M1263.59,195.21L1285.05,214.9M1278.22,219.08L1270.42,191.03M1266.32,193.54L1287.77,213.23M1280.95,217.41L1273.14,189.36M1269.05,191.87L1290.5,211.56M1283.68,215.74L1275.87,187.69"/>
<path class="w" d="M1244.24,209.18L1257.03,201.34A6.1,12.2 -31.5 0 1 1269.78,222.15L1256.99,229.98Z" />
<ellipse class="w" cx="1250.62" cy="219.58" rx="6.1" ry="12.2" transform="rotate(-31.5 1250.62 219.58)" style="" />
<path class="" d="M1245.95,208.14A6.1,12.2 -31.5 0 1 1258.7,228.94"/>
<path class="k" d="M1240.71,212.99L1244.97,210.37A5.4,10.8 -31.5 0 1 1256.26,228.79L1252,231.4Z" />
<ellipse class="k" cx="1246.35" cy="222.2" rx="5.4" ry="10.8" transform="rotate(-31.5 1246.35 222.2)" style="" />
<path class="w" d="M1207.88,234.05L1241.13,213.67A5,10 -31.5 0 1 1251.58,230.72L1218.33,251.1Z" />
<ellipse class="w" cx="1213.1" cy="242.57" rx="5" ry="10" transform="rotate(-31.5 1213.1 242.57)" style="" />
<path class="" d="M1209.58,233A5,10 -31.5 0 1 1220.03,250.05M1212.22,231.38A5,10 -31.5 0 1 1222.67,248.43M1214.87,229.76A5,10 -31.5 0 1 1225.32,246.81M1217.51,228.14A5,10 -31.5 0 1 1227.96,245.19M1220.15,226.52A5,10 -31.5 0 1 1230.6,243.57M1222.8,224.9A5,10 -31.5 0 1 1233.25,241.96M1225.44,223.28A5,10 -31.5 0 1 1235.89,240.34M1228.08,221.66A5,10 -31.5 0 1 1238.53,238.72M1230.73,220.04A5,10 -31.5 0 1 1241.18,237.1M1233.37,218.42A5,10 -31.5 0 1 1243.82,235.48M1236.01,216.8A5,10 -31.5 0 1 1246.46,233.86M1238.66,215.18A5,10 -31.5 0 1 1249.11,232.24"/>
<path class="w" d="M1193.45,246.87L1210.5,236.42A4.95,6.6 -31.5 0 1 1217.4,247.68L1200.35,258.13Z" />
<ellipse class="w" cx="1196.9" cy="252.5" rx="4.95" ry="6.6" transform="rotate(-31.5 1196.9 252.5)" style="" />
<ellipse class="k" cx="1196.9" cy="252.5" rx="1.9" ry="2.6" transform="rotate(-31 1196.9 252.5)"/>
<ellipse cx="1006.7" cy="430.1" rx="13.6" ry="16.4" transform="rotate(-25 1006.7 430.1)" style="stroke-width:2.4"/>
<path class="w" d="M977,500 L1036,465 C1042,462 1047,466 1047,472 C1047.5,477 1045,480 1039,488 L981,520 C979,524 975,528 969,530 C962,530 957,526 956,521 L967,516.5 L968,513.5 L956,517 C955,512 957,506 960,502.5 C965,499 971,498 977,500 Z"/>
<path d="M978,497.5 L1036.5,462.5" style="stroke-width:1.6;stroke-dasharray:0.8 0.6"/>
<path d="M957.5,521.5 C956,514 958,506 962,502"/>
<ellipse cx="1038.5" cy="476" rx="2.8" ry="4" transform="rotate(20 1038.5 476)"/>
<text x="0" y="0" transform="translate(992.5,511) rotate(-31)" style="font-family:'Liberation Serif',serif;font-weight:bold;font-size:15px;fill:#231f20;stroke:#231f20;stroke-width:1.1" textLength="42" lengthAdjust="spacingAndGlyphs">iwata</text>
<path style="fill:#fff;stroke:none" d="M846.25,505 L846.9,545 C843,549 836,550 830,550 C824,549.5 819,548 817.5,545 L817.5,525 Z"/>
<path d="M846.25,511.9 L846.9,545 C843,549 836,550 830,550 C824,549.5 819,548 817.5,545 L817.5,540"/>
<path style="fill:#fff;stroke:none" d="M740.6,570 L740.6,573.75 C744,575.5 748,575.5 751.25,575 C756,574.5 759.5,573 760.6,571.25 L760.6,560 Z"/>
<path d="M740.6,572.5 L740.6,573.75 C744,575.5 748,575.5 751.25,575 C756,574.5 759.5,573 760.6,571.25 L760.6,564"/>
<path style="fill:#fff;stroke:none" d="M713.75,541 L726,532.5 L722.5,537.5 L726,453 L796,490 L882.5,443.75 C893,440 901,448 903.5,460 C904,468 902,474 900,477.5 L737.5,575 C730,581 718,580 710,570 C704,560 705,548 713.75,541 Z"/>
<path d="M713.75,541 L723,535.5 M796,490 L882.5,443.75 C893,440 901,448 903.5,460 C904,468 902,474 900,477.5 L738,575"/>
<path d="M770,556.9 C773,556.5 776.5,556 780,555 C790,551 800,545 811.25,540 L817.5,540"/>
<path d="M841.9,514.4 L841.9,536.9 M817.5,540 C822,541.5 826,541.5 830,541.25 C834,541 836.5,540.2 838.75,539.4"/>
<ellipse class="w" cx="722.5" cy="561" rx="14" ry="19" transform="rotate(-25 722.5 561)"/>
<ellipse class="w" cx="722.9" cy="561.3" rx="11.9" ry="16.6" transform="rotate(-25 722.9 561.3)"/>
<path class="k" style="stroke-width:0.5" d="M720.2,546.4 C726,548.5 729.3,552 730.7,556.5 L725.2,560.3 C722.5,556 720.7,551 720.2,546.4 Z"/>
<path class="t2" d="M726.1,562.6 C728,566 730.5,568.5 733.1,569.6 M725.9,562.4 L731.7,559.4"/>
<path class="w" d="M726.1,453.1 C720,462 714,474 709.6,484 C712,500 717,520 721.3,536.3 C724,540 729,542 734.4,541.8 C748,538 764,528 777,521.2 C780,519 781,517 782.5,514.3 C787,506 791,499 794.9,493 Z"/>
<ellipse class="w" cx="762" cy="470" rx="40" ry="14.3" transform="rotate(26 762 470)"/>
<ellipse cx="762.3" cy="470.3" rx="37.4" ry="12" transform="rotate(26 762.3 470.3)"/>
<path class="k" style="stroke-width:0.5" d="M769.31,460.39L771.05,461.29L772.75,462.21L774.43,463.16L776.08,464.13L777.69,465.11L779.26,466.11L780.78,467.12L782.25,468.13L783.66,469.16L785.02,470.18L786.31,471.21L787.54,472.24L788.7,473.26L789.79,474.27L790.8,475.27L791.73,476.25L792.59,477.22L793.36,478.18L794.04,479.11L794.64,480.01L795.15,480.89L795.57,481.74L795.9,482.56L796.13,483.34L796.27,484.09L796.32,484.81L796.28,485.48L796.14,486.11L795.91,486.7L795.59,487.24L795.18,487.73L794.68,488.18L794.09,488.58L793.41,488.93L792.64,489.23L791.8,489.47L790.87,489.66L789.86,489.8L788.78,489.89L787.63,489.92L786.4,489.9L785.11,489.83L783.76,489.7L782.35,489.52L780.88,489.29L779.37,489L777.8,488.66L776.2,488.27L774.55,487.84L772.87,487.35L771.17,486.82L769.44,486.24L767.68,485.62L765.92,484.96L764.14,484.26L762.36,483.52L760.58,482.74L758.81,481.93L757.04,481.09Z"/>
<path d="M761.9,460.6 L752.3,476.5"/>
<path class="w" d="M820,483.75L848.9,466.25L854.1,467.55L858.1,470.55L856.8,471.85L829.6,488.05L825.3,487.65L820,484.55Z"/>
<path class="k" style="stroke-width:0.5" d="M821.2,484.65L848.9,468.95L853.7,469.25L856,471.15L829.6,487.85L825.3,487.45L821.5,485.55Z"/>
<path class="k" style="stroke-width:0.5" d="M806,510L827,497.3L830.1,497.7L831,501.2L830.5,507.3L828.8,511.7L807.8,524L806,521.3Z"/>
<path d="M806.9,525.7 L829.6,513.5 C831.5,511.5 832.7,509 832.7,507.3 L832.3,497.7 C831.5,496.7 830.5,496.4 829.2,496.4"/>
<ellipse class="w" cx="782.3" cy="435.5" rx="41" ry="17" transform="rotate(25 782.3 435.5)"/>
<ellipse class="w" cx="782.8" cy="433" rx="41.5" ry="17" transform="rotate(25 782.8 433)"/>
<path class="t2" d="M820.41,444.33L819.21,452.33M819.15,445.47L817.95,453.47M817.59,446.42L816.39,454.42M815.73,447.19L814.53,455.19M813.59,447.77L812.39,455.77M811.2,448.15L810,456.15M808.57,448.33L807.37,456.33M805.73,448.31L804.53,456.31M802.7,448.08L801.5,456.08M799.51,447.65L798.31,455.65M796.18,447.03L794.98,455.03M792.75,446.21L791.55,454.21M789.24,445.21L788.04,453.21M785.68,444.04L784.48,452.04M782.11,442.69L780.91,450.69M778.56,441.2L777.36,449.2M775.05,439.56L773.85,447.56M771.62,437.8L770.42,445.8M768.3,435.93L767.1,443.93M765.12,433.96L763.92,441.96M762.1,431.91L760.9,439.91M759.27,429.81L758.07,437.81M756.65,427.66L755.45,435.66M754.28,425.49L753.08,433.49M752.16,423.31L750.96,431.31M750.31,421.15L749.11,429.15M748.76,419.02L747.56,427.02M747.52,416.95L746.32,424.95M746.6,414.94L745.4,422.94M745.99,413.02L744.79,421.02M745.72,411.21L744.52,419.21M745.79,409.51L744.59,417.51M746.18,407.95L744.98,415.95"/>
<ellipse class="w" cx="784" cy="425" rx="41.5" ry="17" transform="rotate(25 784 425)"/>
<ellipse cx="787.5" cy="420" rx="30.9" ry="11.7" transform="rotate(27 787.5 420)"/>
<ellipse cx="789" cy="418" rx="24" ry="8.8" transform="rotate(28 789 418)"/>
<ellipse cx="790" cy="415.5" rx="1.4" ry="0.9" style="stroke-width:0.9"/>
<ellipse cx="748.8" cy="601.8" rx="7.1" ry="3.7" style="stroke-width:1.7"/>
<path class="w" d="M732.3,663.5 L732.3,671 A16.6,5 0 0 0 765.3,671 L765.3,663.5 Z"/>
<path class="t" d="M765.22,666.5L765.22,671.5M764.73,667.3L764.73,672.3M763.82,668.07L763.82,673.07M762.51,668.78L762.51,673.78M760.83,669.42L760.83,674.42M758.83,669.97L758.83,674.97M756.57,670.41L756.57,675.41M754.1,670.74L754.1,675.74M751.48,670.93L751.48,675.93M748.8,671L748.8,676M746.12,670.93L746.12,675.93M743.5,670.74L743.5,675.74M741.03,670.41L741.03,675.41M738.77,669.97L738.77,674.97M736.77,669.42L736.77,674.42M735.09,668.78L735.09,673.78M733.78,668.07L733.78,673.07M732.87,667.3L732.87,672.3M732.38,666.5L732.38,671.5"/>
<ellipse class="w" cx="748.8" cy="663.3" rx="16.6" ry="4.6"/>
<path class="w" d="M742.6,655 L742.6,663.5 A6.7,2 0 0 0 756,663.5 L756,655 Z"/>
<path class="t" d="M742.6,658.5 A6.7,2 0 0 0 756,658.5 M742.6,661 A6.7,2 0 0 0 756,661"/>
<path class="w" d="M731.9,644.5 L735,641 L749,639.5 L763.5,641 L766.8,644.5 L766.8,651 L762.5,655 L748.8,657.5 L735,655 L731.9,651 Z"/>
<path d="M731.9,644.5 L735,648.5 L748.8,650.5 L762.5,648.5 L766.8,644.5 M735,648.5 L735,655 M748.8,650.5 L748.8,657.5 M762.5,648.5 L762.5,655"/>
<path class="w" d="M734.5,635.6 L734.5,643.5 A14.3,4.6 0 0 0 763.1,643.5 L763.1,635.6 Z"/>
<path class="t2" d="M734.5,638.5 A14.3,4.6 0 0 0 763.1,638.5 M734.5,641 A14.3,4.6 0 0 0 763.1,641"/>
<ellipse class="w" cx="748.8" cy="635.6" rx="14.3" ry="4.8"/>
<ellipse class="k" cx="748.8" cy="636" rx="9.5" ry="3"/>
<path class="w" d="M746,638 L746,627 A3,2.5 0 0 1 752,627 L752,638 Z"/>
<path class="w" d="M587.4,513L587.4,537.5A16.9,4.2 0 0 0 621.2,537.5L621.2,513Z"/>
<ellipse class="w" cx="604.3" cy="513" rx="16.9" ry="4.2"/>
<path class="" d="M587.4,517A16.9,4.2 0 0 0 621.2,517M587.4,521A16.9,4.2 0 0 0 621.2,521M587.4,525A16.9,4.2 0 0 0 621.2,525M587.4,529A16.9,4.2 0 0 0 621.2,529M587.4,533A16.9,4.2 0 0 0 621.2,533"/>
<path class="w" d="M587.7,501L587.7,508.5A16.6,5 0 0 0 620.9,508.5L620.9,501Z"/>
<ellipse class="w" cx="604.3" cy="501" rx="16.6" ry="5"/>
<path class="t2" d="M620.78,501.6L620.78,509.1M620.02,502.61L620.02,510.11M618.58,503.55L618.58,511.05M616.54,504.38L616.54,511.88M613.97,505.06L613.97,512.56M610.99,505.58L610.99,513.08M607.72,505.89L607.72,513.39M604.3,506L604.3,513.5M600.88,505.89L600.88,513.39M597.61,505.58L597.61,513.08M594.63,505.06L594.63,512.56M592.06,504.38L592.06,511.88M590.02,503.55L590.02,511.05M588.58,502.61L588.58,510.11M587.82,501.6L587.82,509.1"/>
<path class="w" d="M591.8,492.5 C593.8,495.5 593.8,498.5 590.8,501 L617.8,501 C614.8,498.5 614.8,495.5 616.8,492.5 Z"/>
<path class="w" d="M587.7,479.5L587.7,488.5A16.6,5 0 0 0 620.9,488.5L620.9,479.5Z"/>
<ellipse class="w" cx="604.3" cy="479.5" rx="16.6" ry="5"/>
<path class="t2" d="M620.78,480.1L620.78,489.1M620.02,481.11L620.02,490.11M618.58,482.05L618.58,491.05M616.54,482.88L616.54,491.88M613.97,483.56L613.97,492.56M610.99,484.08L610.99,493.08M607.72,484.39L607.72,493.39M604.3,484.5L604.3,493.5M600.88,484.39L600.88,493.39M597.61,484.08L597.61,493.08M594.63,483.56L594.63,492.56M592.06,482.88L592.06,491.88M590.02,482.05L590.02,491.05M588.58,481.11L588.58,490.11M587.82,480.1L587.82,489.1"/>
<ellipse class="k" cx="604.3" cy="479.5" rx="12.4" ry="4"/>
<path class="w" d="M593.6,465.7L593.6,475A10.7,4.3 0 0 0 615,475L615,465.7Z"/>
<ellipse class="w" cx="604.3" cy="465.7" rx="10.7" ry="4.3"/>
<path class="" d="M593.6,468.5A10.7,4.3 0 0 0 615,468.5M593.6,471.5A10.7,4.3 0 0 0 615,471.5"/>
<ellipse cx="604.3" cy="466" rx="5.2" ry="2.5"/>
<path d="M604.3,463.5 L604.3,468.5"/>
<path class="w" d="M601.5,583 A2,1.2 0 0 1 605.5,583 L605.5,670.5 L601.5,670.5 Z"/>
<path class="k" d="M596.8,612 L596.8,616 A6.8,2.6 0 0 0 610.4,616 L610.4,612 Z"/>
<ellipse class="w" cx="603.6" cy="611.5" rx="6.8" ry="2.4"/>
<ellipse class="w" cx="603.6" cy="611.5" rx="2" ry="0.8"/>
<path style="stroke-width:1" d="M597.5,680A6.8,2 0 0 0 611.3,681.2M597.5,682.9A6.8,2 0 0 0 611.3,684.1M597.5,685.8A6.8,2 0 0 0 611.3,687M597.5,688.7A6.8,2 0 0 0 611.3,689.9M597.5,691.6A6.8,2 0 0 0 611.3,692.8M597.5,694.5A6.8,2 0 0 0 611.3,695.7M597.5,697.4A6.8,2 0 0 0 611.3,698.6M597.5,700.3A6.8,2 0 0 0 611.3,701.5M597.5,703.2A6.8,2 0 0 0 611.3,704.4M597.5,706.1A6.8,2 0 0 0 611.3,707.3M597.5,709A6.8,2 0 0 0 611.3,710.2M597.5,711.9A6.8,2 0 0 0 611.3,713.1M597.5,714.8A6.8,2 0 0 0 611.3,716M597.5,717.7A6.8,2 0 0 0 611.3,718.9M597.5,720.6A6.8,2 0 0 0 611.3,721.8M597.5,723.5A6.8,2 0 0 0 611.3,724.7M597.5,726.4A6.8,2 0 0 0 611.3,727.6M597.5,729.3A6.8,2 0 0 0 611.3,730.5M597.5,732.2A6.8,2 0 0 0 611.3,733.4M597.5,735.1A6.8,2 0 0 0 611.3,736.3M597.5,738A6.8,2 0 0 0 611.3,739.2M597.5,740.9A6.8,2 0 0 0 611.3,742.1"/>
<path style="stroke-width:0.9" d="M597.5,680 L597.5,744 M611.3,681 L611.3,745"/>
<ellipse cx="604.4" cy="680" rx="6.8" ry="2"/>
<path class="w" d="M596.2,754L596.2,763.5A7.8,3.2 0 0 0 611.8,763.5L611.8,754Z"/>
<ellipse class="w" cx="604" cy="754" rx="7.8" ry="3.2"/>
<path class="t2" d="M596.2,757A7.8,3.2 0 0 0 611.8,757M596.2,760A7.8,3.2 0 0 0 611.8,760"/>
<ellipse cx="604" cy="754" rx="3.2" ry="1.5"/>
<path class="w" d="M962,720 L962,738 A13,3.5 0 0 0 988,738 L988,720 Z"/>
<path class="t2" d="M962,724A13,3.5 0 0 0 988,724M962,727A13,3.5 0 0 0 988,727M962,730A13,3.5 0 0 0 988,730M962,733A13,3.5 0 0 0 988,733M962,736A13,3.5 0 0 0 988,736"/>
<path class="w" d="M953.75,696 L966,721 A10,2.8 0 0 0 985,721 L996.25,696 Z"/>
<path class="w" d="M946.5,672 L950.5,696 A24,5.5 0 0 0 998,696 L1002,672 Z"/>
<path class="w" d="M950.5,695 L950.5,716 C951,718 957,718 958.5,716 L957.5,695 Z"/>
<path d="M953.5,716 L953.5,722 M955.5,716 L955.5,722"/>
<path class="w" d="M945.25,648L945.25,670A29,10.6 0 0 0 1003.25,670L1003.25,648Z"/>
<ellipse class="w" cx="974.25" cy="648" rx="29" ry="10.6"/>
<path style="fill:#fff;stroke:none" d="M945.25,670 L945.25,674 A29,8.5 0 0 0 1003.25,674 L1003.25,670 Z"/>
<path d="M945.25,670 L945.25,674 A29,8.5 0 0 0 1003.25,674 L1003.25,670 M945.25,670 A29,10.6 0 0 0 1003.25,670"/>
<path class="w" d="M959.85,624 L959.85,647 A14.4,4.5 0 0 0 988.65,647 L988.65,624 Z"/>
<path d="M981,627.5 L981,651"/>
<ellipse class="w" cx="974.25" cy="624" rx="14.4" ry="4.5"/>
<ellipse cx="974.25" cy="624.5" rx="11" ry="3.2" class="t2"/>
<ellipse cx="974.25" cy="625" rx="9" ry="2.4" class="t"/>
<ellipse cx="407.5" cy="464.4" rx="6.8" ry="9.8" transform="rotate(-32 407.5 464.4)" style="stroke-width:3"/>
<path class="w" d="M308.14,566.96L323.73,557.96A5.4,9 -30 0 1 332.73,573.54L317.14,582.54Z" />
<ellipse class="w" cx="312.64" cy="574.75" rx="5.4" ry="9" transform="rotate(-30 312.64 574.75)" style="" />
<path class="w" d="M289.61,556.87L299.14,551.37A12.15,27 -30 0 1 326.14,598.13L316.61,603.63Z" />
<ellipse class="w" cx="303.11" cy="580.25" rx="12.15" ry="27" transform="rotate(-30 303.11 580.25)" style="" />
<path class="" d="M293.08,554.87A12.15,27 -30 0 1 320.08,601.63M295.68,553.37A12.15,27 -30 0 1 322.68,600.13"/>
<path class="w" d="M274.26,562.27L288.11,554.27A13.5,30 -30 0 1 318.11,606.23L304.26,614.23Z" />
<ellipse class="w" cx="289.26" cy="588.25" rx="13.5" ry="30" transform="rotate(-30 289.26 588.25)" style="" />
<path class="t2" d="M279.09,561.21L292.08,553.71M282.16,561.97L295.15,554.47M284.59,563.1L297.58,555.6M286.71,564.41L299.7,556.91M288.63,565.83L301.62,558.33M290.41,567.33L303.4,559.83M292.06,568.91L305.05,561.41M293.62,570.54L306.61,563.04M295.09,572.22L308.08,564.72M296.49,573.95L309.48,566.45M297.81,575.72L310.8,568.22M299.06,577.53L312.05,570.03M300.25,579.37L313.24,571.87M301.38,581.25L314.37,573.75M302.45,583.17L315.44,575.67M303.45,585.12L316.44,577.62M304.39,587.11L317.38,579.61M305.26,589.14L318.25,581.64M306.05,591.21L319.04,583.71M306.77,593.33L319.76,585.83M307.41,595.49L320.4,587.99M307.94,597.71L320.93,590.21M308.36,600L321.35,592.5M308.63,602.38L321.62,594.88M308.7,604.87L321.69,597.37M308.46,607.54L321.45,600.04M307.59,610.57L320.58,603.07"/>
<path class="w" d="M271.79,566L275.26,564A12.6,28 -30 0 1 303.26,612.5L299.79,614.5Z" />
<ellipse class="w" cx="285.79" cy="590.25" rx="12.6" ry="28" transform="rotate(-30 285.79 590.25)" style="" />
<path class="w" d="M256.89,590.19L273.16,566.37A13.5,27 -30 0 1 300.16,613.13L271.39,615.31Z"/>
<path class="" d="M261.2,583.66A9,18 -30 0 1 279.2,614.84"/>
<path class="" d="M266.13,576.2A11,22 -30 0 1 288.13,614.3"/>
<path class="" d="M269.83,570.6A12.5,25 -30 0 1 294.83,613.9"/>
<path class="w" d="M255.16,591.19L257.76,589.69A7.25,14.5 -30 0 1 272.26,614.81L269.66,616.31Z" />
<ellipse class="w" cx="262.41" cy="603.75" rx="7.25" ry="14.5" transform="rotate(-30 262.41 603.75)" style="" />
<path class="w" d="M255.79,594.29L258.39,592.79A6.33,11.5 -30 0 1 269.89,612.71L267.29,614.21Z" />
<ellipse class="w" cx="261.54" cy="604.25" rx="6.33" ry="11.5" transform="rotate(-30 261.54 604.25)" style="" />
<ellipse cx="262.84" cy="603.5" rx="5.5" ry="9" transform="rotate(-30 262.84 603.5)"/>
<path class="w" d="M250.75,603.55L261.14,597.55A3.6,6 -30 0 1 267.14,607.95L256.75,613.95Z" />
<ellipse class="w" cx="253.75" cy="608.75" rx="3.6" ry="6" transform="rotate(-30 253.75 608.75)" style="" />
<ellipse cx="253.75" cy="608.75" rx="2.3" ry="3.8" transform="rotate(-30 253.75 608.75)"/>
<path class="w" d="M232,618 L237.5,615 C240,614 242,616 242.3,618.5 C242.3,620.5 241,622 239,623 L235,625 Z"/>
<path class="w" d="M213.25,632.25 C218,626 225,619 230.5,616 C234,614.5 237,616 238,620 C238.5,624 237,627 234,629 C228,632 220,633 213.25,632.25 Z"/>
<path class="t" d="M223,623 L226,626 L225.5,630 M226,626 L230,623.5 M232,618 L231,622 L234,627"/>
<path class="w" d="M180.89,641.74L193.13,634.95A5.5,10 -29 0 1 202.83,652.44L190.59,659.23Z" />
<ellipse class="w" cx="185.74" cy="650.49" rx="5.5" ry="10" transform="rotate(-29 185.74 650.49)" style="" />
<path style="stroke-width:0.9" d="M181.76,641.26A5.5,10 -29 0 0 192.51,658.17M192.51,658.17A5.5,10 -29 0 0 183.86,640.09M183.86,640.09A5.5,10 -29 0 0 194.61,657M194.61,657A5.5,10 -29 0 0 185.96,638.93M185.96,638.93A5.5,10 -29 0 0 196.71,655.84M196.71,655.84A5.5,10 -29 0 0 188.06,637.76M188.06,637.76A5.5,10 -29 0 0 198.81,654.68M198.81,654.68A5.5,10 -29 0 0 190.16,636.6M190.16,636.6A5.5,10 -29 0 0 200.91,653.51M200.91,653.51A5.5,10 -29 0 0 192.26,635.44"/>
<path class="w" d="M168.75,640.47L177.5,635.62A8.5,17 -29 0 1 193.98,665.35L185.23,670.2Z" />
<ellipse class="w" cx="176.99" cy="655.33" rx="8.5" ry="17" transform="rotate(-29 176.99 655.33)" style="" />
<path class="t2" d="M171.92,639.68L179.79,635.32M175.03,640.59L182.9,636.23M177.3,641.98L185.17,637.61M179.2,643.56L187.07,639.2M180.86,645.27L188.74,640.91M182.35,647.09L190.22,642.73M183.68,648.99L191.55,644.63M184.86,650.97L192.73,646.61M185.91,653.03L193.78,648.66M186.82,655.16L194.69,650.8M187.57,657.38L195.45,653.02M188.15,659.7L196.02,655.34M188.48,662.15L196.35,657.79M188.46,664.81L196.33,660.44M187.58,667.93L195.45,663.57"/>
<path class="w" d="M158.39,654.78L170.3,643.26A7.59,13.8 -29 0 1 183.68,667.4L167.6,671.4Z"/>
<path class="" d="M162.67,650.12A6.33,11.5 -29 0 1 173.82,670.24M167.48,647.46A6.33,11.5 -29 0 1 178.63,667.57"/>
<path class="k" d="M156.4,657.37L159.46,655.68A4.92,8.2 -29 0 1 167.41,670.02L164.35,671.72Z" />
<ellipse class="k" cx="160.37" cy="664.55" rx="4.92" ry="8.2" transform="rotate(-29 160.37 664.55)" style="" />
<path class="w" d="M154.07,659.35L156.86,657.8A4.71,7.6 -29 0 1 164.23,671.1L161.43,672.65Z" />
<ellipse class="w" cx="157.75" cy="666" rx="4.71" ry="7.6" transform="rotate(-29 157.75 666)" style="" />
<ellipse class="k" cx="157.3" cy="666.2" rx="1.2" ry="1.5"/>
<path class="w" d="M118.05,675.17L124.11,671.67A5.25,12.5 -30 0 1 136.61,693.33L130.55,696.83Z" />
<ellipse class="w" cx="124.3" cy="686" rx="5.25" ry="12.5" transform="rotate(-30 124.3 686)" style="" />
<path class="t2" d="M120.13,674.7L125.5,671.6M122.65,675.73L128.02,672.63M124.49,677.16L129.86,674.06M126.05,678.76L131.42,675.66M127.42,680.46L132.79,677.36M128.64,682.25L134.01,679.15M129.72,684.12L135.09,681.02M130.66,686.07L136.03,682.97M131.45,688.11L136.82,685.01M132.05,690.25L137.42,687.15M132.36,692.56L137.73,689.46M132,695.26L137.37,692.16"/>
<path class="w" d="M116.92,675.82L118.05,675.17A5.25,12.5 -30 0 1 130.55,696.83L129.42,697.48Z" />
<ellipse class="w" cx="123.17" cy="686.65" rx="5.25" ry="12.5" transform="rotate(-30 123.17 686.65)" style="" />
<path class="w" d="M116.9,677.2 L103.4,690.3 L110.9,690.4 L104.4,697.5 L114,697 L122.8,686.25 L112.8,701.25 L129.1,696.25 C127,690 123,682 116.9,677.2 Z"/>
</g>
<g class="lab">
<text x="228.2" y="23.60" textLength="21.60" lengthAdjust="spacingAndGlyphs">16C</text>
<text x="74.7" y="75.60" textLength="16.10" lengthAdjust="spacingAndGlyphs">18</text>
<text x="244.79999999999998" y="143.40" textLength="14.60" lengthAdjust="spacingAndGlyphs">20</text>
<text x="209.89999999999998" y="184.20" textLength="22.60" lengthAdjust="spacingAndGlyphs">20A</text>
<text x="128.6" y="223.30" textLength="14.40" lengthAdjust="spacingAndGlyphs">19</text>
<text x="309.8" y="125.70" textLength="17.40" lengthAdjust="spacingAndGlyphs">3A</text>
<text x="486.0" y="194.60" textLength="25.40" lengthAdjust="spacingAndGlyphs">16A</text>
<text x="312.0" y="287.00" textLength="17.40" lengthAdjust="spacingAndGlyphs">17</text>
<text x="417.7" y="357.90" textLength="18.90" lengthAdjust="spacingAndGlyphs">3B</text>
<text x="549.0" y="205.70" textLength="15.30" lengthAdjust="spacingAndGlyphs">13</text>
<text x="556.7" y="292.10" textLength="25.80" lengthAdjust="spacingAndGlyphs">14A</text>
<text x="645.2" y="287.90" textLength="8.40" lengthAdjust="spacingAndGlyphs">4</text>
<text x="748.1" y="230.50" textLength="8.00" lengthAdjust="spacingAndGlyphs">5</text>
<text x="838.6" y="172.30" textLength="8.00" lengthAdjust="spacingAndGlyphs">6</text>
<text x="926.6" y="125.50" textLength="7.50" lengthAdjust="spacingAndGlyphs">7</text>
<text x="1017.2" y="73.15" textLength="8.35" lengthAdjust="spacingAndGlyphs">8</text>
<text x="1083.95" y="136.90" textLength="17.10" lengthAdjust="spacingAndGlyphs">10</text>
<text x="1221.45" y="189.90" textLength="17.10" lengthAdjust="spacingAndGlyphs">12</text>
<text x="913.4000000000001" y="245.00" textLength="8.00" lengthAdjust="spacingAndGlyphs">9</text>
<text x="1056.45" y="230.65" textLength="25.85" lengthAdjust="spacingAndGlyphs">11A</text>
<text x="1226.7" y="370.00" textLength="26.80" lengthAdjust="spacingAndGlyphs">11B</text>
<text x="964.0" y="408.50" textLength="15.40" lengthAdjust="spacingAndGlyphs">21</text>
<text x="550.0" y="439.10" textLength="16.10" lengthAdjust="spacingAndGlyphs">3C</text>
<text x="630.5" y="447.20" textLength="26.60" lengthAdjust="spacingAndGlyphs">14B</text>
<text x="371.45" y="449.40" textLength="7.85" lengthAdjust="spacingAndGlyphs">2</text>
<text x="819.9000000000001" y="416.50" textLength="26.80" lengthAdjust="spacingAndGlyphs">16B</text>
<text x="638.2" y="513.90" textLength="26.80" lengthAdjust="spacingAndGlyphs">15A</text>
<text x="880.3000000000001" y="521.00" textLength="18.90" lengthAdjust="spacingAndGlyphs">3D</text>
<text x="1050.9" y="507.80" textLength="17.80" lengthAdjust="spacingAndGlyphs">25</text>
<text x="173.29999999999998" y="584.50" textLength="7.90" lengthAdjust="spacingAndGlyphs">1</text>
<text x="322.4" y="632.00" textLength="17.90" lengthAdjust="spacingAndGlyphs">1D</text>
<text x="251.2" y="663.40" textLength="15.50" lengthAdjust="spacingAndGlyphs">1C</text>
<text x="204.7" y="691.90" textLength="16.90" lengthAdjust="spacingAndGlyphs">1B</text>
<text x="145.29999999999998" y="719.20" textLength="16.90" lengthAdjust="spacingAndGlyphs">1A</text>
<text x="537.2" y="621.40" textLength="16.60" lengthAdjust="spacingAndGlyphs">15</text>
<text x="627.1" y="640.00" textLength="26.10" lengthAdjust="spacingAndGlyphs">15B</text>
<text x="772.4000000000001" y="616.00" textLength="16.80" lengthAdjust="spacingAndGlyphs">23</text>
<text x="782.7" y="668.15" textLength="15.85" lengthAdjust="spacingAndGlyphs">22</text>
<text x="1013.95" y="698.15" textLength="16.35" lengthAdjust="spacingAndGlyphs">24</text>
<text x="627.1" y="720.40" textLength="26.10" lengthAdjust="spacingAndGlyphs">15C</text>
<text x="627.1" y="772.20" textLength="27.60" lengthAdjust="spacingAndGlyphs">15D</text>
</g>
</svg>
</body></html>
